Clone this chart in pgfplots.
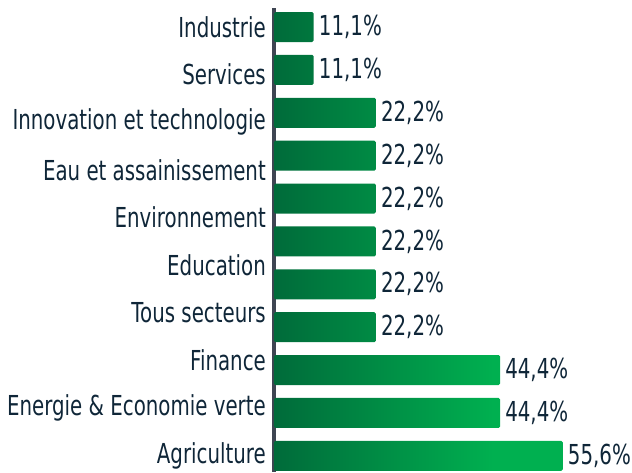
\documentclass[border=0pt]{standalone}
\usepackage{pgfplots}
\pgfplotsset{compat=1.18}
\usepackage{fontspec}
\setmainfont{DejaVu Sans}[FakeStretch=0.72]
\definecolor{gdark}{HTML}{006B3A}
\definecolor{gbright}{HTML}{00B050}
\definecolor{lbl}{HTML}{0F2638}
\definecolor{axline}{HTML}{3E4552}
\pgfdeclarehorizontalshading{bargrad}{100bp}{color(0bp)=(gdark); color(25bp)=(gdark); color(63bp)=(gbright); color(100bp)=(gbright)}

\begin{document}
\begin{tikzpicture}
\begin{axis}[
 at={(274pt,0pt)},anchor=south west,
 scale only axis,width=347pt,height=464pt,
 xmin=4,xmax=66,ymin=-0.443,ymax=10.377,y dir=reverse,
 xbar,bar width=30pt,
 axis y line=left,axis x line=none,
 y axis line style={-,line width=4pt,draw=axline},
 % ten names spread over the eleven bars, as in the reference
 ytick={0,1.1111,2.2222,3.3333,4.4444,5.5556,6.6667,7.7778,8.8889,10},
 yticklabels={Industrie,Services,Innovation et technologie,Eau et assainissement,Environnement,Education,Tous secteurs,Finance,Energie \& Economie verte,Agriculture},
 major tick length=0pt,
 yticklabel style={font=\fontsize{27.5}{30}\selectfont,text=lbl,anchor=east,inner sep=0pt,xshift=-8pt},
 nodes near coords,point meta=explicit symbolic,
 every node near coord/.append style={font=\fontsize{27.5}{30}\selectfont,text=lbl,anchor=west,inner sep=0pt,xshift=5pt},
]
\addplot[draw=none,shading=bargrad,rounded corners=1.5pt] coordinates {
(11.1,0) [11,1\%]
(11.1,1) [11,1\%]
(22.2,2) [22,2\%]
(22.2,3) [22,2\%]
(22.2,4) [22,2\%]
(22.2,5) [22,2\%]
(22.2,6) [22,2\%]
(22.2,7) [22,2\%]
(44.4,8) [44,4\%]
(44.4,9) [44,4\%]
(55.6,10) [55,6\%]
};
\end{axis}
\pgfresetboundingbox
\useasboundingbox (0,0) rectangle (632pt,472pt);
\end{tikzpicture}
\end{document}
